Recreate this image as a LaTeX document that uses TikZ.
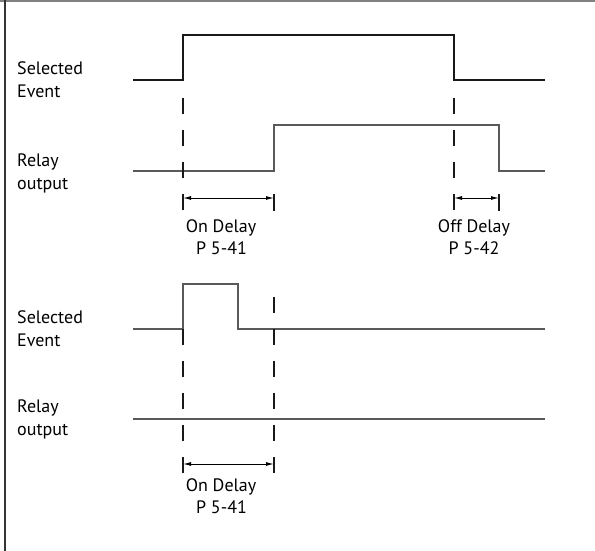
\documentclass[tikz,border=0pt]{standalone}
\usepackage{fontspec}
\setmainfont{PT Sans}
\usetikzlibrary{arrows.meta}
\begin{document}
\begin{tikzpicture}[x=1pt,y=-1pt,
  sigk/.style={line width=1.2pt,color=black!90},
  sigg/.style={line width=1.2pt,color=black!65},
  dsh/.style={line width=1.3pt,color=black!90,dash pattern=on 16pt off 16pt},
  tickln/.style={line width=1.3pt,color=black!90},
  dimln/.style={line width=1pt,{Latex[length=8pt,width=4pt]}-{Latex[length=8pt,width=4pt]}},
  lbl/.style={font=\fontsize{18}{22}\selectfont,inner sep=0pt,anchor=base west},
  dlbl/.style={font=\fontsize{18}{22}\selectfont,inner sep=0pt,anchor=base}]
\useasboundingbox (0,0) rectangle (595,551);
\fill[white] (0,0) rectangle (595,551);
% frame
\draw[line width=2pt,black!50] (0,1.5) -- (595,1.5);
\draw[line width=2pt,black!80] (4.5,0) -- (4.5,551);

% ---------- upper diagram ----------
\coordinate (e1s) at (133,80);
\coordinate (e1r) at (183,80);
\coordinate (e1f) at (454,80);
\coordinate (e1e) at (545,80);
\draw[sigk] (e1s) -- (e1r) -- (183,35) -- (454,35) -- (e1f) -- (e1e);

\coordinate (r1s) at (133,171);
\coordinate (r1r) at (274,171);
\coordinate (r1f) at (499,171);
\coordinate (r1e) at (545,171);
\draw[sigg] (r1s) -- (r1r) -- (274,125) -- (499,125) -- (r1f) -- (r1e);

\draw[dsh,dash phase=16pt] (183,82) -- (183,210);
\draw[dsh,dash phase=16pt] (454,82) -- (454,210);
\draw[tickln] (274,194) -- (274,211);
\draw[tickln] (499,194) -- (499,211);

\coordinate (a1l) at (183,198);
\coordinate (a1r) at (274,198);
\coordinate (a2l) at (454,198);
\coordinate (a2r) at (499,198);
\draw[dimln] (a1l) -- (a1r);
\draw[dimln] (a2l) -- (a2r);

\node[lbl] (t1) at (17,74.5) {Selected};
\node[lbl] (t2) at (17,97.5) {Event};
\node[lbl] (t3) at (17,166) {Relay};
\node[lbl] (t4) at (17,189) {output};
\node[dlbl] (t5) at (221,232) {On Delay};
\node[dlbl] (t6) at (221.5,254) {P 5-41};
\node[dlbl] (t7) at (474,232) {Off Delay};
\node[dlbl] (t8) at (474,254) {P 5-42};

% ---------- lower diagram ----------
\coordinate (e2s) at (133,329);
\coordinate (e2r) at (183,329);
\coordinate (e2f) at (238,329);
\coordinate (e2e) at (545,329);
\draw[sigg] (e2s) -- (e2r) -- (183,284) -- (238,284) -- (e2f) -- (e2e);

\coordinate (r2s) at (133,419);
\coordinate (r2e) at (545,419);
\draw[sigg] (r2s) -- (r2e);

\draw[dsh] (183,329) -- (183,473);
\draw[dsh] (274,297) -- (274,473);

\coordinate (a3l) at (183,464);
\coordinate (a3r) at (274,464);
\draw[dimln] (a3l) -- (a3r);

\node[lbl] (b1) at (17,323) {Selected};
\node[lbl] (b2) at (17,346) {Event};
\node[lbl] (b3) at (17,412) {Relay};
\node[lbl] (b4) at (17,435) {output};
\node[dlbl] (b5) at (221,491) {On Delay};
\node[dlbl] (b6) at (221.5,513) {P 5-41};
\end{tikzpicture}
\end{document}
